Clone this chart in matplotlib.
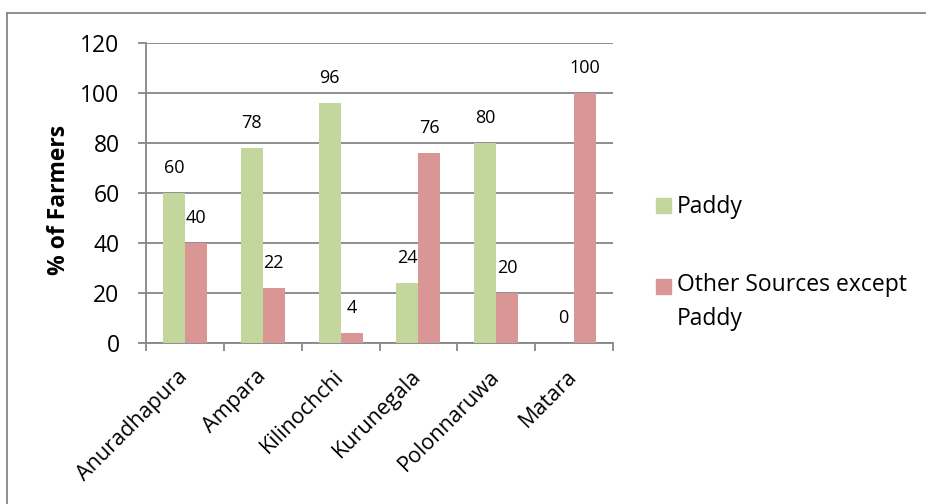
import matplotlib
matplotlib.use("Agg")
import matplotlib.pyplot as plt
from matplotlib.patches import Rectangle
from matplotlib.lines import Line2D
from matplotlib.transforms import ScaledTranslation
import numpy as np

plt.rcParams['font.family'] = ['Open Sans', 'DejaVu Sans']

districts = ["Anuradhapura", "Ampara", "Kilinochchi", "Kurunegala", "Polonnaruwa", "Matara"]
paddy = [60, 78, 96, 24, 80, 0]
other = [40, 22, 4, 76, 20, 100]
series_names = ["Paddy", "Other Sources except\nPaddy"]
yticks = [0, 20, 40, 60, 80, 100, 120]

green = "#C3D69B"
pink = "#D99694"
grid_gray = "#868686"

fig = plt.figure(figsize=(9.26, 5.04), dpi=100)
ax = fig.add_axes([146/926, 1-343/504, (613-146)/926, 300/504])

x = np.arange(len(districts))
w = 0.283
b1 = ax.bar(x - w/2, paddy, w, color=green, zorder=3)
b2 = ax.bar(x + w/2, other, w, color=pink, zorder=3)

for bars, vals in ((b1, paddy), (b2, other)):
    for rect, v in zip(bars, vals):
        ax.annotate(f"{v}", (rect.get_x() + rect.get_width()/2, v),
                    xytext=(0, 18), textcoords="offset points",
                    ha="center", va="center", fontsize=13, color="black")

ax.set_xlim(-0.5, len(districts) - 0.5)
ax.set_ylim(0, 120)
ax.set_yticks(yticks)
ax.set_yticklabels([str(t) for t in yticks], fontsize=16.5)
ax.yaxis.grid(True, color=grid_gray, linewidth=1.3, zorder=0)
ax.set_axisbelow(True)

# category boundaries carry the tick marks, names sit at the centres
ax.set_xticks(np.arange(len(districts) + 1) - 0.5)
ax.set_xticklabels([])
ax.set_xticks(x, minor=True)
ax.set_xticklabels(districts, minor=True, rotation=45, ha="right",
                   rotation_mode="anchor", fontsize=15.5, va="center")
shift = ScaledTranslation(-3/100, 0, fig.dpi_scale_trans)
for lab in ax.get_xticklabels(minor=True):
    lab.set_transform(lab.get_transform() + shift)
ax.tick_params(axis="x", which="major", length=6, width=1.3, color=grid_gray, direction="out")
ax.tick_params(axis="x", which="minor", length=0, pad=22)
ax.tick_params(axis="y", length=6, width=1.3, color=grid_gray, pad=13)

for s in ["top", "right"]:
    ax.spines[s].set_visible(False)
for s in ["left", "bottom"]:
    ax.spines[s].set_color(grid_gray)
    ax.spines[s].set_linewidth(1.3)

ax.set_ylabel("% of Farmers", fontsize=16.5, fontweight="bold")
ax.yaxis.set_label_coords((71-146)/467, 0.477)

# legend
fig.patches.append(Rectangle((656/926, 1-213/504), 15/926, 15/504,
                             transform=fig.transFigure, color=green))
fig.text(677/926, 1-207/504, series_names[0], fontsize=16.5, va="center", ha="left")
fig.patches.append(Rectangle((656/926, 1-294/504), 15/926, 15/504,
                             transform=fig.transFigure, color=pink))
fig.text(677/926, 1-273/504, series_names[1], fontsize=16.5, va="top", ha="left",
         linespacing=1.55)

# chart frame
fig.add_artist(Line2D([7/926, 7/926], [1-13/504, 0], transform=fig.transFigure,
                      color=grid_gray, linewidth=1.3))
fig.add_artist(Line2D([7/926, 1], [1-13/504, 1-13/504], transform=fig.transFigure,
                      color=grid_gray, linewidth=1.3))

fig.savefig("out.png", dpi=100)
